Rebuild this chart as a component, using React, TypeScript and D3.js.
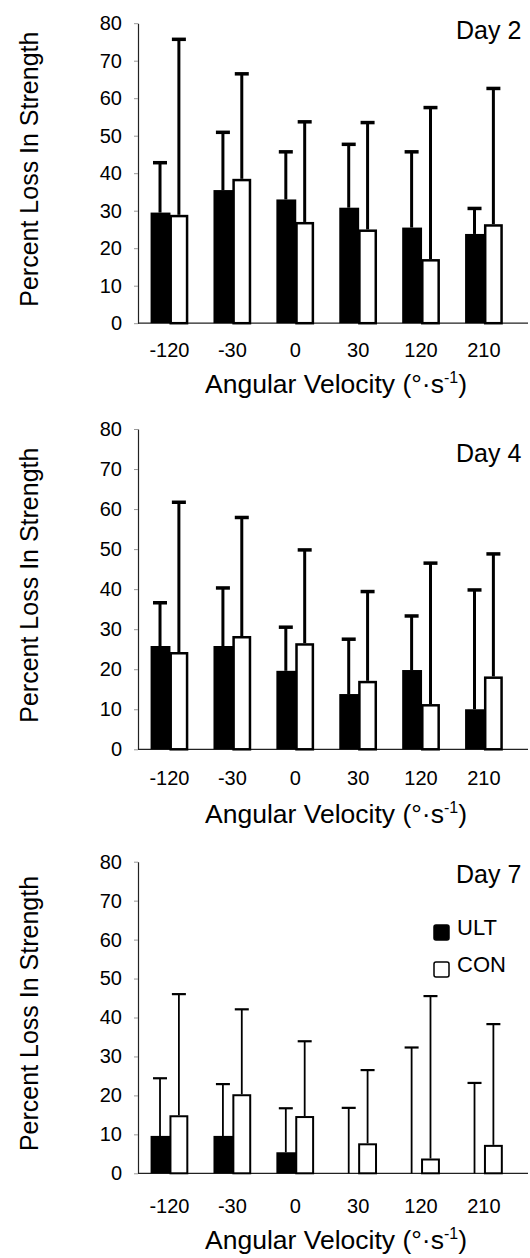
import React, { useEffect, useRef } from 'react';
import * as d3 from 'd3';

// angular velocity groups
const categories = ['-120', '-30', '0', '30', '120', '210'];
const seriesKeys = ['ULT', 'CON'];
const yTicks = [0, 10, 20, 30, 40, 50, 60, 70, 80];

// Day 2 – mean and SD of percent loss in strength
const day2Ult = [29.5, 35.5, 33.0, 30.8, 25.5, 23.8];
const day2UltSd = [13.3, 15.4, 12.7, 16.9, 20.2, 6.8];
const day2Con = [28.9, 38.5, 27.0, 25.0, 17.1, 26.4];
const day2ConSd = [46.8, 28.0, 26.7, 28.5, 40.4, 36.2];

// Day 4
const day4Ult = [25.8, 25.8, 19.6, 13.8, 19.8, 10.0];
const day4UltSd = [10.8, 14.5, 10.9, 13.7, 13.5, 29.8];
const day4Con = [24.3, 28.3, 26.5, 17.1, 11.3, 18.2];
const day4ConSd = [37.4, 29.6, 23.3, 22.3, 35.2, 30.6];

// Day 7
const day7Ult = [9.6, 9.6, 5.4, 0, 0, 0];
const day7UltSd = [14.8, 13.3, 11.3, 16.8, 32.3, 23.2];
const day7Con = [14.9, 20.3, 14.7, 7.7, 3.8, 7.3];
const day7ConSd = [31.1, 21.8, 19.2, 18.8, 41.7, 31.0];

const FONT = '"Liberation Sans", Arial, Helvetica, sans-serif';

const panels = [
  { label: 'Day 2', ult: day2Ult, ultSd: day2UltSd, con: day2Con, conSd: day2ConSd,
    top: 23.2, zero: 323.2, tickDy: 33.5, titleDy: 70, dayY: 38.5, legend: false, line: 3, cap: 3.5, border: 2.5 },
  { label: 'Day 4', ult: day4Ult, ultSd: day4UltSd, con: day4Con, conSd: day4ConSd,
    top: 429, zero: 749.3, tickDy: 35.7, titleDy: 74, dayY: 461.5, legend: false, line: 3, cap: 3.5, border: 2.5 },
  { label: 'Day 7', ult: day7Ult, ultSd: day7UltSd, con: day7Con, conSd: day7ConSd,
    top: 861.7, zero: 1173.3, tickDy: 40, titleDy: 76, dayY: 883, legend: true, line: 1.8, cap: 2.2, border: 2 }
];

const App = () => {
  const ref = useRef<SVGSVGElement>(null);

  useEffect(() => {
    const svg = d3.select(ref.current);
    svg.selectAll('*').remove();

    const axisX = 138;
    const x = d3.scaleBand().domain(categories).range([axisX, 515.4]).paddingInner(0.4).paddingOuter(0.2);
    const xSub = d3.scaleBand().domain(seriesKeys).range([0, x.bandwidth()]);
    const w = xSub.bandwidth();

    panels.forEach((p) => {
      const y = d3.scaleLinear().domain([0, 80]).range([p.zero, p.top]);
      const g = svg.append('g');

      // Y axis
      const yAxis = g
        .append('g')
        .attr('transform', `translate(${axisX},0)`)
        .call(d3.axisLeft(y).tickValues(yTicks).tickSize(4).tickSizeOuter(0).tickPadding(12));
      yAxis.select('.domain').attr('stroke', '#222').attr('stroke-width', 1.2);
      yAxis.selectAll('.tick line').attr('stroke', '#999');
      yAxis.selectAll('.tick text').attr('font-size', 20).attr('font-family', FONT).attr('fill', '#000');

      // X axis line
      g.append('line')
        .attr('x1', axisX).attr('x2', 528)
        .attr('y1', y(0)).attr('y2', y(0))
        .attr('stroke', '#222').attr('stroke-width', 1.2);

      categories.forEach((c, i) => {
        const x0 = x(c) as number;
        const xu = x0 + (xSub('ULT') as number);
        const xc = x0 + (xSub('CON') as number);

        // ULT (filled)
        if (p.ult[i] > 0) {
          g.append('rect')
            .attr('x', xu).attr('y', y(p.ult[i]))
            .attr('width', w + 1).attr('height', y(0) - y(p.ult[i]))
            .attr('fill', '#000');
        }
        // CON (open)
        g.append('rect')
          .attr('x', xc + p.border / 2).attr('y', y(p.con[i]) + p.border / 2)
          .attr('width', w - p.border).attr('height', y(0) - y(p.con[i]) - p.border / 2)
          .attr('fill', '#fff').attr('stroke', '#000').attr('stroke-width', p.border);

        // error bars
        [
          { cx: xu + w / 2, m: p.ult[i], sd: p.ultSd[i] },
          { cx: xc + w / 2, m: p.con[i], sd: p.conSd[i] }
        ].forEach((e) => {
          g.append('line')
            .attr('x1', e.cx).attr('x2', e.cx)
            .attr('y1', y(e.m)).attr('y2', y(e.m + e.sd))
            .attr('stroke', '#000').attr('stroke-width', p.line);
          g.append('line')
            .attr('x1', e.cx - 7).attr('x2', e.cx + 7)
            .attr('y1', y(e.m + e.sd)).attr('y2', y(e.m + e.sd))
            .attr('stroke', '#000').attr('stroke-width', p.cap);
        });

        // category label
        g.append('text')
          .attr('x', x0 + x.bandwidth() / 2)
          .attr('y', y(0) + p.tickDy)
          .attr('text-anchor', 'middle')
          .attr('font-family', FONT).attr('font-size', 20)
          .text(c);
      });

      // X title
      const xt = g.append('text')
        .attr('x', 336).attr('y', y(0) + p.titleDy)
        .attr('text-anchor', 'middle')
        .attr('font-family', FONT).attr('font-size', 26.5);
      xt.append('tspan').text('Angular Velocity (°·s');
      xt.append('tspan').attr('dy', -10).attr('font-size', 16).text('-1');
      xt.append('tspan').attr('dy', 10).text(')');

      // Y title
      g.append('text')
        .attr('transform', `translate(38,${(p.top + p.zero) / 2 - 4}) rotate(-90)`)
        .attr('text-anchor', 'middle')
        .attr('font-family', FONT).attr('font-size', 25)
        .text('Percent Loss In Strength');

      // Day label
      g.append('text')
        .attr('x', 456).attr('y', p.dayY)
        .attr('font-family', FONT).attr('font-size', 25)
        .text(p.label);

      if (p.legend) {
        const items = [
          { key: 'ULT', fill: '#000', y: 925, ty: 935 },
          { key: 'CON', fill: '#fff', y: 962, ty: 972 }
        ];
        items.forEach((it) => {
          g.append('rect')
            .attr('x', 434).attr('y', it.y)
            .attr('width', 15).attr('height', 15).attr('rx', 2)
            .attr('fill', it.fill).attr('stroke', '#000').attr('stroke-width', 1.5);
          g.append('text')
            .attr('x', 457).attr('y', it.ty)
            .attr('font-family', FONT).attr('font-size', 22)
            .text(it.key);
        });
      }
    });
  }, []);

  return (
    <svg
      ref={ref}
      width={530}
      height={1258}
      style={{ position: 'absolute', left: 0, top: 0, background: '#fff' }}
    />
  );
};

export default App;
